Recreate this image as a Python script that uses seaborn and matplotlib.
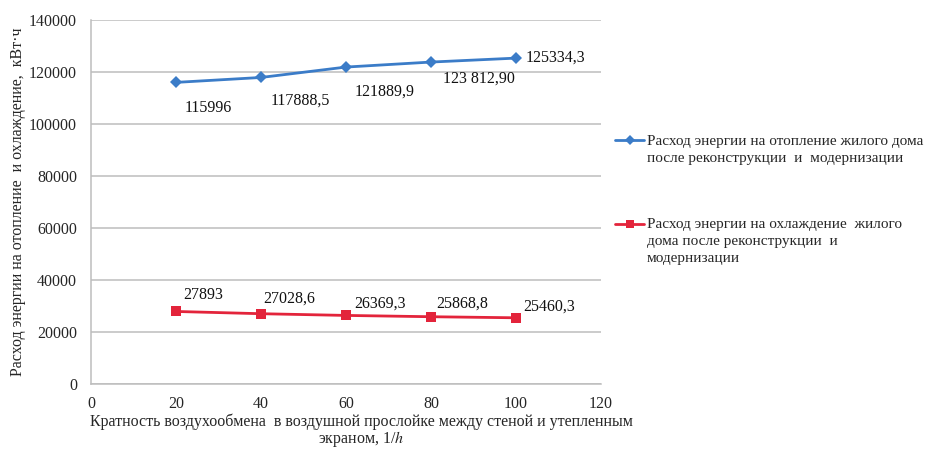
import matplotlib
matplotlib.use("Agg")
import matplotlib.pyplot as plt
import seaborn as sns
import pandas as pd
from matplotlib.lines import Line2D

# Air exchange rate in the ventilated gap, 1/h
air_exchange = [20, 40, 60, 80, 100]

# Energy use after reconstruction and modernization, kWh
heating = [115996, 117888.5, 121889.9, 123812.90, 125334.3]
cooling = [27893, 27028.6, 26369.3, 25868.8, 25460.3]

heating_labels = ["115996", "117888,5", "121889,9", "123 812,90", "125334,3"]
cooling_labels = ["27893", "27028,6", "26369,3", "25868,8", "25460,3"]

heating_name = "Расход энергии на отопление жилого дома\nпосле реконструкции  и  модернизации"
cooling_name = "Расход энергии на охлаждение  жилого\nдома после реконструкции  и\nмодернизации"

x_ticks = [0, 20, 40, 60, 80, 100, 120]
y_ticks = [0, 20000, 40000, 60000, 80000, 100000, 120000, 140000]

blue = "#3b7cc8"
red = "#e3243b"
grid_gray = "#bdbdbd"

sns.set_theme(style="white")
plt.rcParams["font.family"] = ["Liberation Serif", "DejaVu Serif"]
plt.rcParams["mathtext.fontset"] = "stix"

df = pd.DataFrame({
    "x": air_exchange * 2,
    "y": heating + cooling,
    "series": [heating_name] * len(heating) + [cooling_name] * len(cooling),
})

fig = plt.figure(figsize=(9.33, 4.49), dpi=100)
ax = fig.add_axes([0.0975, 0.1448, 0.5465, 0.8107])

sns.lineplot(data=df, x="x", y="y", hue="series", style="series",
             palette={heating_name: blue, cooling_name: red},
             markers={heating_name: "D", cooling_name: "s"},
             dashes=False, linewidth=2.0, markersize=6.5,
             markeredgewidth=0, legend=False, ax=ax, sort=False)

ax.set_xlim(0, 120)
ax.set_ylim(0, 140000)
ax.set_xticks(x_ticks)
ax.set_yticks(y_ticks)
ax.set_xticklabels([str(v) for v in x_ticks], fontsize=11.5)
ax.set_yticklabels([str(v) for v in y_ticks], fontsize=11.5)
ax.tick_params(axis="both", length=0)
ax.tick_params(axis="y", pad=10)
ax.tick_params(axis="x", pad=9)
ax.yaxis.grid(True, color=grid_gray, linewidth=1.1)
ax.xaxis.grid(False)
ax.set_axisbelow(True)
for side in ["top", "right"]:
    ax.spines[side].set_visible(False)
for side in ["left", "bottom"]:
    ax.spines[side].set_color(grid_gray)
    ax.spines[side].set_linewidth(1.1)

# Value labels next to each point
heat_offsets = [(6, -13), (7, -11), (6, -12), (9, -6), (7, 0)]
for xv, yv, lab, off in zip(air_exchange, heating, heating_labels, heat_offsets):
    va = "center" if off[1] == 0 else "top"
    ax.annotate(lab, (xv, yv), xytext=off, textcoords="offset points",
                ha="left", va=va, fontsize=11.5, color="#111111")

cool_offsets = [(5, 6), (2, 5), (6, 3), (4, 4), (5, 2)]
for xv, yv, lab, off in zip(air_exchange, cooling, cooling_labels, cool_offsets):
    ax.annotate(lab, (xv, yv), xytext=off, textcoords="offset points",
                ha="left", va="bottom", fontsize=11.5, color="#111111")

ax.set_xlabel("Кратность воздухообмена  в воздушной прослойке между стеной и утепленным\n"
              "экраном, 1/$\\mathit{h}$", fontsize=11.5, linespacing=0.95)
ax.set_ylabel("Расход энергии на отопление  и охлаждение,  кВт·ч", fontsize=11.5, labelpad=2)
ax.xaxis.set_label_coords(0.53, -0.080, transform=ax.transAxes)
ax.xaxis.label.set_va("top")

handles = [
    Line2D([], [], color=blue, marker="D", markersize=5.5, linewidth=2.0, markeredgewidth=0),
    Line2D([], [], color=red, marker="s", markersize=6, linewidth=2.0, markeredgewidth=0),
]
leg = fig.legend(handles, [heating_name, cooling_name], loc="upper left",
                 bbox_to_anchor=(0.6595, 0.70), frameon=False, fontsize=11,
                 handlelength=1.9, handletextpad=0.15, labelspacing=3.5,
                 borderaxespad=0, borderpad=0)
for txt in leg.get_texts():
    txt.set_linespacing(1.4)
for col in leg._legend_handle_box.get_children():
    for item in col.get_children():
        item.align = "top"

fig.savefig("out.png", dpi=100, facecolor="white")
